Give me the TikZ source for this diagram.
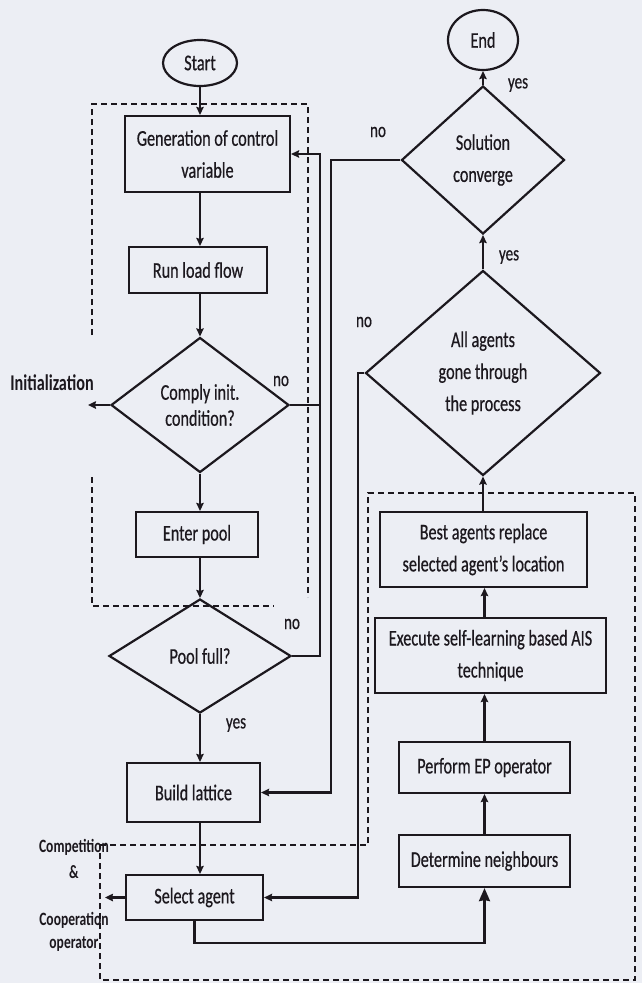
\documentclass[tikz,border=0pt]{standalone}
\usepackage{fontspec}
\setmainfont{Carlito}[FakeStretch=0.72,UprightFeatures={FakeBold=0.5}]
\usetikzlibrary{shapes.geometric,arrows.meta}
\definecolor{paper}{RGB}{236,238,244}
\definecolor{ink}{RGB}{28,24,30}
\begin{document}
\begin{tikzpicture}[x=1pt,y=-1pt,>={Stealth[length=8pt,width=7.5pt,inset=1pt]},line width=2.2pt,color=ink,
        every node/.style={font=\fontsize{22.5}{32}\selectfont,align=center,inner sep=0pt},
        box/.style={draw,rectangle},
        term/.style={draw,ellipse},
        decide/.style={draw,diamond,aspect=1.3},
        tag/.style={font=\fontsize{21}{24}\selectfont},
        side/.style={font=\fontsize{22.5}{26}\selectfont\bfseries},
        coop/.style={font=\fontsize{18.8}{22}\selectfont\bfseries},
        dashbox/.style={line width=1.6pt,dash pattern=on 6pt off 4pt}]
        \fill[paper] (0,0) rectangle (642,983); %背景
        \useasboundingbox (0,0) rectangle (642,983);
        % 左の列
        \node[term,minimum width=74pt,minimum height=46pt] (start) at (200,63) {Start};
        \node[box,minimum width=165pt,minimum height=76pt] (gen) at (207.5,154) {Generation of control\\variable};
        \node[box,minimum width=138pt,minimum height=46pt] (run) at (198,270) {Run load flow};
        \node[decide,minimum width=178pt,minimum height=135pt,font=\fontsize{22.5}{26}\selectfont] (comply) at (200,405) {Comply init.\\condition?};
        \node[box,minimum width=122pt,minimum height=45pt] (pool) at (197,534.5) {Enter pool};
        \node[decide,minimum width=182pt,minimum height=114pt] (full) at (200,656) {Pool full?};
        \node[box,minimum width=133pt,minimum height=59pt] (lattice) at (193.5,792.5) {Build lattice};
        \node[box,minimum width=137pt,minimum height=45pt] (select) at (194.5,897.5) {Select agent};
        % 右の列
        \node[term,minimum width=70pt,minimum height=60pt] (stop) at (483,40) {End};
        \node[decide,minimum width=163pt,minimum height=148pt] (conv) at (483,160) {Solution\\converge};
        \node[decide,minimum width=235pt,minimum height=205pt] (allag) at (483,373) {All agents\\gone through\\the process};
        \node[box,minimum width=207pt,minimum height=75pt] (best) at (483.5,549.5) {Best agents replace\\selected agent's location};
        \node[box,minimum width=231pt,minimum height=75pt] (exec) at (490.5,655.5) {Execute self-learning based AIS\\technique};
        \node[box,minimum width=171pt,minimum height=51pt] (ep) at (484.5,767.5) {Perform EP operator};
        \node[box,minimum width=171pt,minimum height=52pt] (nbr) at (484.5,861) {Determine neighbours};
        % 矢印
        \draw[->] (start.south) -- (start.south |- gen.north);
        \draw[->] (gen.south -| start) -- (run.north -| start);
        \draw[->] (run.south -| start) -- (comply.north);
        \draw[->] (comply.south) -- (pool.north -| comply);
        \draw[->] (pool.south -| full) -- (full.north);
        \draw[->] (full.south) -- (lattice.north -| full);
        \draw[->] (lattice.south -| full) -- (select.north -| full);
        \draw[->] (nbr) -- (ep);
        \draw[->] (ep.north) -- (ep.north |- exec.south);
        \draw[->] (ep.north |- exec.north) -- (ep.north |- best.south);
        \draw[->] (best.north -| conv) -- (allag.south);
        \draw[->] (allag.north) -- (conv.south);
        \draw[->] (conv.north) -- (stop.south);
        % 戻りの線
        \coordinate (back) at (320,0);
        \coordinate (redo) at (331,0);
        \coordinate (next) at (358,0);
        \coordinate (loop) at (0,943);
        \coordinate (initout) at (88,405);
        \coordinate (compout) at (105,897.5);
        \draw[->] (full.east) -- (full.east -| back) |- (gen.east);
        \draw (comply.east) -- (comply.east -| back);
        \draw[->] (conv.west) -- (conv.west -| redo) |- (lattice.east);
        \draw[->] (allag.west) -- (allag.west -| next) |- (select.east);
        \draw[-{Stealth[length=13pt,width=11pt,inset=1pt]}] (select.south) -- (select.south |- loop) -| (nbr.south);
        \draw[->] (comply.west) -- (initout);
        \draw[->] (select.west) -- (compout);
        % 破線の枠
        \draw[dashbox] (92,335) -- (92,104) -- (308,104) -- (308,597);
        \draw[dashbox] (92,477) -- (92,606) -- (274,606);
        \draw[dashbox] (100,845) -- (368,845) -- (368,493) -- (635,493) -- (635,980) -- (100,980) -- cycle;
        % ラベル
        \node[tag] (no1) at (281,381) {no};
        \node[tag] (no2) at (292,624) {no};
        \node[tag] (yes1) at (236,725) {yes};
        \node[tag] (no3) at (378,132) {no};
        \node[tag] (yes2) at (518,85) {yes};
        \node[tag] (yes3) at (509,257) {yes};
        \node[tag] (no4) at (364,322) {no};
        \node[side] (init) at (52,383) {Initialization};
        \node[coop] (comp) at (74,847) {Competition};
        \node[coop] (amp) at (74,872) {\&};
        \node[coop] (coopn) at (74,920) {Cooperation};
        \node[coop] (oper) at (74,944) {operator};
    \end{tikzpicture}
\end{document}
